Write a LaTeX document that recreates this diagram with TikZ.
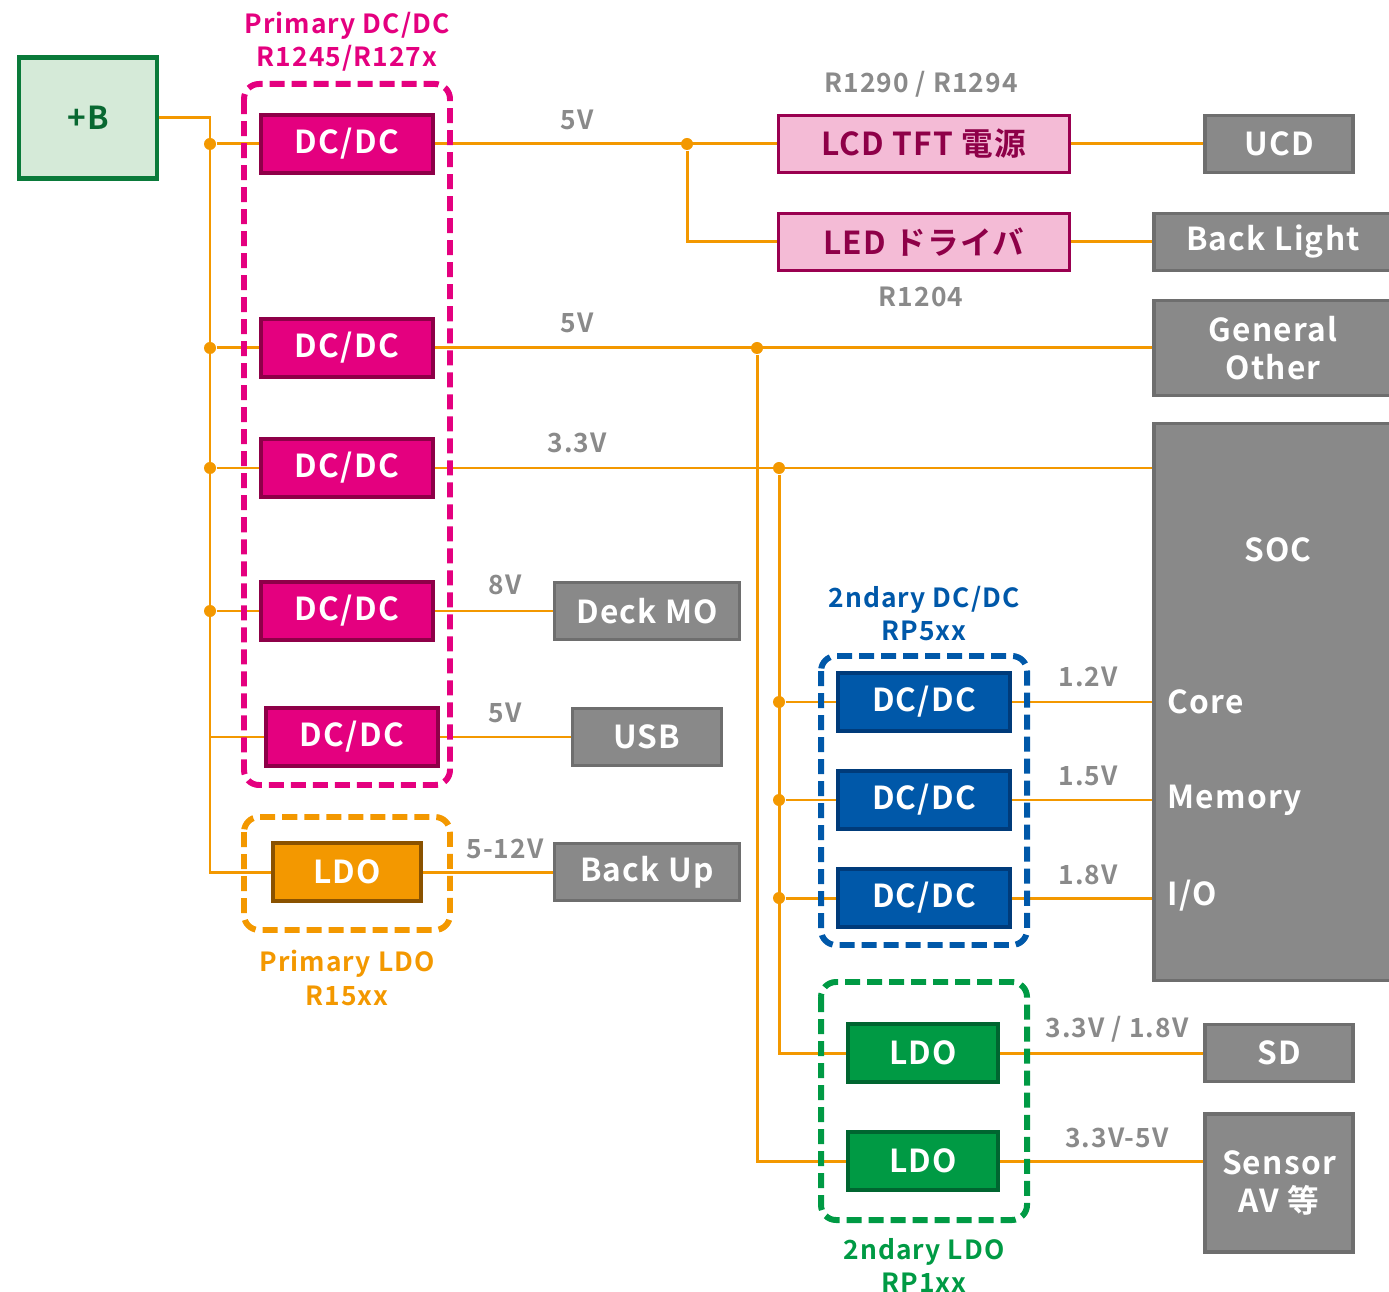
\documentclass[tikz,border=0pt]{standalone}
\usepackage{fontspec}
\setmainfont{Noto Sans CJK JP}[BoldFont={Noto Sans CJK JP Bold}, LetterSpace=4]
\usepackage{xcolor}
\usetikzlibrary{positioning,backgrounds}
\definecolor{wireorange}{HTML}{F39800}
\definecolor{pmag}{HTML}{E4007F}
\definecolor{pmagdark}{HTML}{8E0048}
\definecolor{lcdpink}{HTML}{F4BBD6}
\definecolor{lcddark}{HTML}{9A0050}
\definecolor{loadgray}{HTML}{898989}
\definecolor{loaddark}{HTML}{6E6E6E}
\definecolor{vgray}{HTML}{8A8A8A}
\definecolor{ldodark}{HTML}{8A5200}
\definecolor{sblue}{HTML}{0058A9}
\definecolor{sbluedark}{HTML}{003B7A}
\definecolor{sgreen}{HTML}{009A44}
\definecolor{sgreendark}{HTML}{006530}
\definecolor{srcfill}{HTML}{D5EAD8}
\definecolor{srcgreen}{HTML}{0A7A3A}
\newcommand{\boxfont}{\fontsize{9}{10.6}\selectfont\bfseries}
\newcommand{\lblfont}{\fontsize{7.5}{9.4}\selectfont\bfseries}
\tikzset{
  wire/.style={
    draw=wireorange, line width=0.85pt
  },
  junct/.style={
    circle, fill=wireorange, inner sep=0pt, minimum size=0.12cm
  },
  grp/.style={
    line width=1.7pt, rounded corners=0.15cm,
    dash pattern=on 0.15cm off 0.07cm
  },
  grplabel/.style={
    align=center, font=\lblfont
  },
  vlabel/.style={
    text=vgray, font=\lblfont
  },
  unitbox/.style={
    draw, rectangle, line width=1pt,
    minimum width=1.72cm, minimum height=0.58cm,
    text=white, font=\boxfont
  },
  dcbox/.style={
    unitbox, fill=pmag, draw=pmagdark
  },
  ldobox/.style={
    unitbox, fill=wireorange, draw=ldodark, minimum width=1.48cm
  },
  sdcbox/.style={
    unitbox, fill=sblue, draw=sbluedark
  },
  sldobox/.style={
    unitbox, fill=sgreen, draw=sgreendark, minimum width=1.5cm
  },
  lcdbox/.style={
    unitbox, fill=lcdpink, draw=lcddark, text=pmagdark,
    minimum width=2.91cm, minimum height=0.57cm
  },
  loadbox/.style={
    unitbox, fill=loadgray, draw=loaddark, align=center,
    minimum height=0.57cm
  },
  soctext/.style={
    text=white, font=\boxfont
  },
}

\begin{document}
\begin{tikzpicture}[x=0.01cm, y=-0.01cm]
  \useasboundingbox (0,0) rectangle (1389,1292);

  % Battery input
  \node[unitbox, fill=srcfill, draw=srcgreen, text=srcgreen!85!black,
        line width=1.3pt, minimum width=1.38cm, minimum height=1.21cm]
    (vb) at (88,118) {+B};

  % Primary DC/DC
  \draw[grp, draw=pmag] (244,84) rectangle (450,785);
  \node[grplabel, text=pmag] (pdclbl) at (347,42) {Primary DC/DC\\R1245/R127x};
  \node[dcbox] (dc1) at (347,144) {DC/DC};
  \node[dcbox] (dc2) at (347,348) {DC/DC};
  \node[dcbox] (dc3) at (347,468) {DC/DC};
  \node[dcbox] (dc4) at (347,611) {DC/DC};
  \node[dcbox] (dc5) at (352,737) {DC/DC};

  % Primary LDO
  \draw[grp, draw=wireorange] (244,817) rectangle (450,930);
  \node[ldobox] (pldo) at (347,872) {LDO};
  \node[grplabel, text=wireorange] (pldolbl) at (347,978) {Primary LDO\\R15xx};

  % LCD / LED
  \node[lcdbox] (lcd) at (924,144) {LCD TFT 電源};
  \node[lcdbox] (led) at (924,242) {LED ドライバ};
  \node[vlabel] (lcdlbl) at (921,84) {R1290 / R1294};
  \node[vlabel] (ledlbl) at (921,297) {R1204};

  % Loads
  \node[loadbox, minimum width=1.48cm] (ucd) at (1279,144) {UCD};
  \node[loadbox, minimum width=2.38cm] (blight) at (1273,242) {Back Light};
  \node[loadbox, minimum width=2.38cm, minimum height=0.95cm] (gen) at (1273,348) {General\\Other};
  \node[loadbox, minimum width=2.38cm, minimum height=5.57cm] (soc) at (1273,702) {};
  \node[soctext] (soclbl) at (1278,550) {SOC};
  \node[soctext, anchor=west] (core) at (1155,702) {Core};
  \node[soctext, anchor=west] (mem) at (1155,800) {Memory};
  \node[soctext, anchor=west] (io) at (1155,896) {I/O};
  \node[loadbox, minimum width=1.85cm] (deck) at (647,611) {Deck MO};
  \node[loadbox, minimum width=1.49cm] (usb) at (647,737) {USB};
  \node[loadbox, minimum width=1.85cm] (bup) at (647,872) {Back Up};

  % 2ndary DC/DC
  \draw[grp, draw=sblue] (821,656) rectangle (1027,945);
  \node[grplabel, text=sblue] (sdclbl) at (924,614) {2ndary DC/DC\\RP5xx};
  \node[sdcbox] (sdc1) at (924,702) {DC/DC};
  \node[sdcbox] (sdc2) at (924,800) {DC/DC};
  \node[sdcbox] (sdc3) at (924,898) {DC/DC};

  % 2ndary LDO
  \draw[grp, draw=sgreen] (821,982) rectangle (1027,1220);
  \node[grplabel, text=sgreen] (sldolbl) at (924,1265) {2ndary LDO\\RP1xx};
  \node[sldobox] (sldo1) at (923,1053) {LDO};
  \node[sldobox] (sldo2) at (923,1161) {LDO};
  \node[loadbox, minimum width=1.48cm] (sd) at (1279,1053) {SD};
  \node[loadbox, minimum width=1.48cm, minimum height=1.38cm] (sensor) at (1279,1183) {Sensor\\AV 等};

  % Voltage labels
  \node[vlabel] (v1) at (577,120) {5V};
  \node[vlabel] (v2) at (577,323) {5V};
  \node[vlabel] (v3) at (577,443) {3.3V};
  \node[vlabel] (v4) at (505,585) {8V};
  \node[vlabel] (v5) at (505,713) {5V};
  \node[vlabel] (v6) at (505,849) {5-12V};
  \node[vlabel] (v7) at (1088,677) {1.2V};
  \node[vlabel] (v8) at (1088,776) {1.5V};
  \node[vlabel] (v9) at (1088,875) {1.8V};
  \node[vlabel] (v10) at (1117,1029) {3.3V / 1.8V};
  \node[vlabel] (v11) at (1117,1138) {3.3V-5V};

  % Junctions
  \node[junct] (j1) at (210,144) {};
  \node[junct] (j2) at (210,348) {};
  \node[junct] (j3) at (210,468) {};
  \node[junct] (j4) at (210,611) {};
  \coordinate (j5) at (210,737);
  \coordinate (busend) at (210,872);
  \node[junct] (ja) at (687,144) {};
  \node[junct] (jb) at (757,348) {};
  \node[junct] (jc) at (779,468) {};
  \node[junct] (jd1) at (779,702) {};
  \node[junct] (jd2) at (779,800) {};
  \node[junct] (jd3) at (779,898) {};

  % Wires
  \begin{scope}[on background layer]
    \draw[wire] (vb.east) -| (busend) -- (pldo);
    \draw[wire] (j1) -- (dc1);
    \draw[wire] (j2) -- (dc2);
    \draw[wire] (j3) -- (dc3);
    \draw[wire] (j4) -- (dc4);
    \draw[wire] (j5) -- (dc5);
    \draw[wire] (dc1) -- (lcd);
    \draw[wire] (ja) |- (led);
    \draw[wire] (lcd) -- (ucd);
    \draw[wire] (led) -- (blight);
    \draw[wire] (dc2) -- (gen);
    \draw[wire] (jb) |- (sldo2);
    \draw[wire] (dc3) -- (dc3 -| soc.west);
    \draw[wire] (jc) |- (sldo1);
    \draw[wire] (jd1) -- (sdc1);
    \draw[wire] (jd2) -- (sdc2);
    \draw[wire] (jd3) -- (sdc3);
    \draw[wire] (sdc1) -- (sdc1 -| soc.west);
    \draw[wire] (sdc2) -- (sdc2 -| soc.west);
    \draw[wire] (sdc3) -- (sdc3 -| soc.west);
    \draw[wire] (dc4) -- (deck);
    \draw[wire] (dc5) -- (usb);
    \draw[wire] (pldo) -- (bup);
    \draw[wire] (sldo1) -- (sd);
    \draw[wire] (sldo2) -- (sldo2 -| sensor.west);
  \end{scope}

\end{tikzpicture}
\end{document}
